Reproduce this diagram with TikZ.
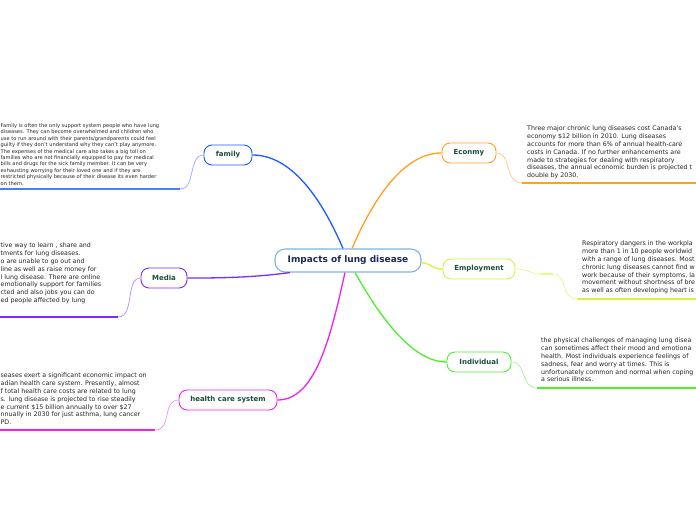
\documentclass[tikz,border=0pt]{standalone}
\usepackage{fontspec}
\setmainfont{DejaVu Sans}
\definecolor{cblue}{HTML}{1A5CFF}
\definecolor{cblueL}{HTML}{8FB0FF}
\definecolor{corange}{HTML}{FFA020}
\definecolor{corangeL}{HTML}{FFC878}
\definecolor{cyel}{HTML}{D4F53C}
\definecolor{cyelL}{HTML}{E6FA8C}
\definecolor{cgreen}{HTML}{4CF02C}
\definecolor{cgreenL}{HTML}{9AF78A}
\definecolor{cpurp}{HTML}{7A2CFF}
\definecolor{cpurpL}{HTML}{B08CFF}
\definecolor{cmag}{HTML}{EE22EE}
\definecolor{cmagL}{HTML}{F590F5}
\definecolor{ccentral}{HTML}{7FB5E0}
\definecolor{ctextc}{HTML}{1A2A5A}
\definecolor{cnodetext}{HTML}{1B4D3E}
\definecolor{cbody}{HTML}{262626}
\begin{document}
\begin{tikzpicture}[x=1pt,y=-1pt,
  central/.style={draw=ccentral, line width=1.1pt, fill=white, rounded corners=10pt,
    minimum width=146pt, minimum height=23pt, inner sep=0pt,
    font=\fontsize{9}{10}\selectfont\bfseries, text=ctextc},
  topic/.style={line width=0.9pt, fill=white, rounded corners=8pt,
    minimum height=20pt, inner sep=0pt,
    font=\fontsize{7}{8}\selectfont\bfseries, text=cnodetext},
  body/.style={anchor=north west, inner sep=0pt, align=left, text=cbody,
    font=\fontsize{6.3}{7.8}\selectfont},
  smallbody/.style={body, font=\fontsize{5.1}{6.4}\selectfont},
  main/.style={line width=1.3pt},
  sub/.style={line width=0.7pt},
  uline/.style={line width=1.4pt}]
\useasboundingbox (0,0) rectangle (696,520);
\fill[white] (0,0) rectangle (696,520);

% topic nodes
\node[central] (c) at (348,260.5) {Impacts of lung disease};
\node[topic, draw=cblue, minimum width=48pt] (fam) at (228,155) {family};
\node[topic, draw=corange, minimum width=54pt] (eco) at (469,153) {Econmy};
\node[topic, draw=cyel, minimum width=72pt] (emp) at (479,269) {Employment};
\node[topic, draw=cgreen, minimum width=64pt] (ind) at (479,362) {Individual};
\node[topic, draw=cpurp, minimum width=46pt] (med) at (164,278) {Media};
\node[topic, draw=cmag, minimum width=98pt] (hcs) at (228,400) {health care system};

% main connectors
\draw[main, cblue] ([xshift=-5pt]c.north) .. controls (320,195) and (290,155) .. (fam.east);
\draw[main, corange] ([xshift=4pt]c.north) .. controls (375,195) and (405,153) .. (eco.west);
\draw[main, cyel] ([yshift=-2pt]c.east) .. controls (432,264) and (432,269) .. (emp.west);
\draw[main, cgreen] ([xshift=7pt]c.south) .. controls (390,335) and (420,362) .. (ind.west);
\draw[main, cpurp] ([xshift=-58pt]c.south) .. controls (250,278) and (215,278) .. (med.east);
\draw[main, cmag] ([xshift=-3pt]c.south) .. controls (330,340) and (315,400) .. (hcs.east);

% sub-branch coordinates
\coordinate (famA) at (180,189); \coordinate (famB) at (0,189);
\coordinate (ecoA) at (522,183); \coordinate (ecoB) at (696,183);
\coordinate (empM) at (541,274); \coordinate (empN) at (553,274);
\coordinate (empA) at (577,299); \coordinate (empB) at (696,299);
\coordinate (indA) at (537,388); \coordinate (indB) at (696,388);
\coordinate (medA) at (118,317); \coordinate (medB) at (0,317);
\coordinate (hcsA) at (155,430); \coordinate (hcsB) at (0,430);

% sub-branches
\draw[sub, cblueL] (fam.west) .. controls (188,155) and (196,189) .. (famA);
\draw[uline, cblue!80] (famA) -- (famB);
\draw[sub, corangeL] (eco.east) .. controls (512,153) and (504,183) .. (ecoA);
\draw[uline, corange] (ecoA) -- (ecoB);
\draw[sub, cyelL] (emp.east) .. controls (528,269) and (530,274) .. (empM);
\draw[line width=1.2pt, cyelL] (empM) -- (empN);
\draw[sub, cyelL] (empN) .. controls (568,274) and (560,299) .. (empA);
\draw[uline, cyel] (empA) -- (empB);
\draw[sub, cgreenL] (ind.east) .. controls (527,362) and (520,388) .. (indA);
\draw[uline, cgreen] (indA) -- (indB);
\draw[sub, cpurpL] (med.west) .. controls (125,278) and (135,317) .. (medA);
\draw[uline, cpurp] (medA) -- (medB);
\draw[sub, cmagL] (hcs.west) .. controls (162,400) and (172,430) .. (hcsA);
\draw[uline, cmag] (hcsA) -- (hcsB);

% texts
\node[smallbody] (famT) at (0.5,123.5) {Family is often the only support system people who have lung\\
diseases. They can become overwhelmed and children who\\
use to run around with their parents/grandparents could feel\\
guilty if they don't understand why they can't play anymore.\\
The expenses of the medical care also takes a big toll on\\
families who are not financially equipped to pay for medical\\
bills  and drugs for the sick family member. It can be very\\
exhausting worrying for their loved one and if they are\\
restricted physically because of their disease its even harder\\
on them.};

\node[body] (ecoT) at (527,126) {Three major chronic lung diseases cost Canada's\\
economy \$12 billion in 2010.  Lung diseases\\
accounts for more than 6\% of annual health-care\\
costs in Canada. If no further enhancements are\\
made to strategies for dealing with respiratory\\
diseases, the annual economic burden is projected t\\
double by 2030.};

\node[body] (empT) at (582,241) {Respiratory dangers in the workpla\\
more than 1 in 10 people worldwid\\
with a range of lung diseases. Most\\
chronic lung diseases cannot find w\\
work because of their symptoms, la\\
movement without shortness of bre\\
as well as often developing heart is};

\node[body] (indT) at (541,338) {the physical challenges of managing lung disea\\
can sometimes affect their mood and emotiona\\
health. Most individuals experience feelings of\\
sadness, fear and worry at times. This is\\
unfortunately common and normal when coping\\
a serious illness.};

\node[body] (medT) at (0.5,243) {tive way to learn , share and\\
tments for lung diseases.\\
o are unable to go out and\\
line as well as raise money for\\
l lung disease. There are online\\
emotionally support for families\\
cted and also jobs you can do\\
ed people affected by lung};

\node[body] (hcsT) at (0.5,373) {seases exert a significant economic impact on\\
adian health care system. Presently, almost\\
f total health care costs are related to lung\\
s. lung disease is projected to rise steadily\\
e current \$15 billion annually to over \$27\\
nnually in 2030 for just asthma, lung cancer\\
PD.};
\end{tikzpicture}
\end{document}
